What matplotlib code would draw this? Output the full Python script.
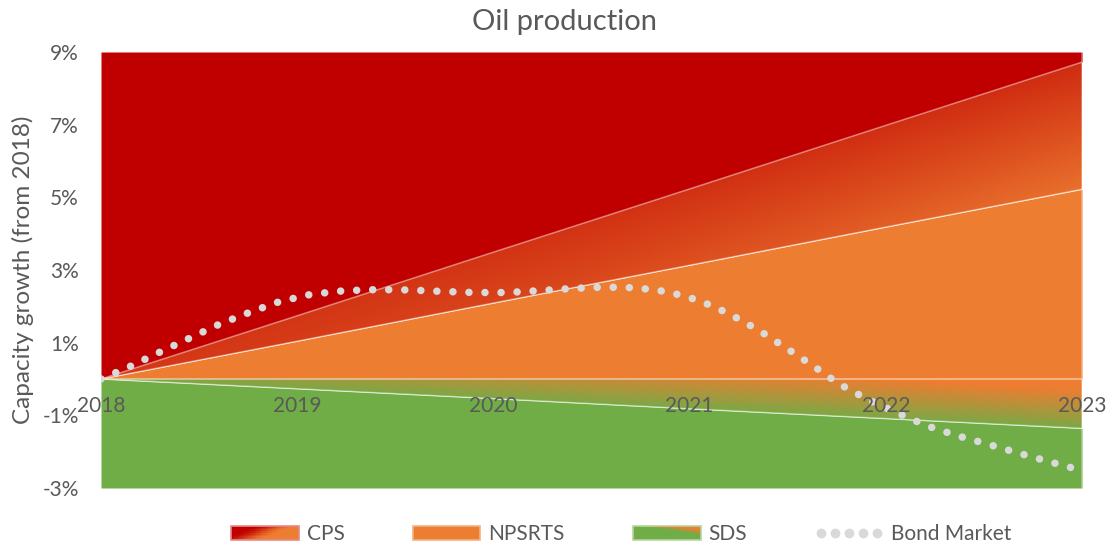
import numpy as np
import matplotlib
matplotlib.use("Agg")
import matplotlib.pyplot as plt
from matplotlib.patches import Polygon, Rectangle, Patch
from matplotlib.lines import Line2D
from matplotlib.colors import to_rgb
from matplotlib.legend_handler import HandlerBase

# scenario lines (capacity growth, % from 2018)
years = [2018, 2019, 2020, 2021, 2022, 2023]
cps = [0.0, 1.74, 3.49, 5.23, 6.98, 8.72]
npsrts = [0.0, 1.04, 2.09, 3.13, 4.18, 5.22]
sds = [0.0, -0.27, -0.54, -0.82, -1.09, -1.36]

# bond market curve
bond_year = [2018.00, 2018.15, 2018.30, 2018.45, 2018.60, 2018.76, 2018.91, 2019.07,
             2019.24, 2019.40, 2019.57, 2019.74, 2019.90, 2020.07, 2020.23, 2020.40,
             2020.56, 2020.73, 2020.89, 2021.05, 2021.20, 2021.35, 2021.49, 2021.63,
             2021.76, 2021.91, 2022.06, 2022.21, 2022.37, 2022.53, 2022.69, 2022.85,
             2023.00]
bond_val = [0.00, 0.35, 0.74, 1.12, 1.50, 1.84, 2.13, 2.33,
            2.43, 2.46, 2.45, 2.41, 2.38, 2.38, 2.43, 2.49,
            2.53, 2.51, 2.40, 2.16, 1.80, 1.35, 0.86, 0.36,
            -0.13, -0.57, -0.94, -1.29, -1.57, -1.81, -2.06, -2.30,
            -2.52]

y_ticks = [-3, -1, 1, 3, 5, 7, 9]
labels = ['CPS', 'NPSRTS', 'SDS', 'Bond Market']

RED = '#C00000'
ORANGE = '#ED7D31'
GREEN = '#70AD47'
TXT = '#595959'
DOT = '#D9D9D9'

plt.rcParams['font.family'] = ['Lato', 'DejaVu Sans']


def blend(c1, c2, t):
    a = np.array(to_rgb(c1))
    b = np.array(to_rgb(c2))
    t = np.clip(np.asarray(t, float), 0, 1)
    return a + (b - a) * t[..., None]


def smooth(t):
    t = np.clip(t, 0, 1)
    return t * t * (3 - 2 * t)


class GradHandler(HandlerBase):
    # legend swatch filled with a small 2d gradient
    def __init__(self, c1, c2, func, edge):
        super().__init__()
        self.c1, self.c2, self.func, self.edge = c1, c2, func, edge

    def create_artists(self, legend, orig_handle, xdescent, ydescent,
                       width, height, fontsize, trans):
        arts = []
        nx, ny = 40, 8
        for i in range(nx):
            for j in range(ny):
                u = (i + 0.5) / nx
                v = (j + 0.5) / ny
                c = blend(self.c1, self.c2, self.func(u, v))
                arts.append(Rectangle((-xdescent + i * width / nx, -ydescent + j * height / ny),
                                      width / nx * 1.05, height / ny * 1.05,
                                      fc=c, ec='none', lw=0, transform=trans))
        arts.append(Rectangle((-xdescent, -ydescent), width, height, fc='none',
                              ec=self.edge, lw=1.2, transform=trans))
        return arts


fig = plt.figure(figsize=(11.12, 5.49), dpi=100)
ax = fig.add_axes([101 / 1112, 61 / 549, 981 / 1112, 436 / 549])
ymin, ymax = -3, 9

x = np.array(years, float)
top = np.array(cps)
mid = np.array(npsrts)
low = np.array(sds)

# solid areas
ax.fill_between(x, top, ymax, color=RED, lw=0, zorder=1)
ax.fill_between(x, 0, mid, color=ORANGE, lw=0, zorder=1)
ax.fill_between(x, ymin, low, color=GREEN, lw=0, zorder=1)

# gradient areas
gx = np.linspace(x[0], x[-1], 600)
gy = np.linspace(ymin, ymax, 800)
GX, GY = np.meshgrid(gx, gy)
xf = (GX - x[0]) / (x[-1] - x[0])

ctop = np.interp(GX, x, top)
cmid = np.interp(GX, x, mid)
s = np.clip((ctop - GY) / np.maximum(ctop - cmid, 1e-6), 0, 1)
rgb_cps = blend(RED, ORANGE, 0.35 + 0.1 * (1 - xf) + 0.55 * xf ** 1.5 * s)

w = 1.15 * (1 - xf) - 0.25 + 0.85 * (-GY)
rgb_sds = blend(ORANGE, GREEN, w)

for rgb, upper, lower in [(rgb_cps, top, mid), (rgb_sds, np.zeros_like(low), low)]:
    verts = np.column_stack([np.r_[x, x[::-1]], np.r_[upper, lower[::-1]]])
    poly = Polygon(verts, closed=True, transform=ax.transData, fc='none', ec='none')
    ax.add_patch(poly)
    im = ax.imshow(rgb, extent=[x[0], x[-1], ymin, ymax], origin='lower',
                   aspect='auto', interpolation='bilinear', zorder=1)
    im.set_clip_path(poly)

# area borders
for v in (top, mid, low):
    ax.plot(x, v, color='white', alpha=0.45, lw=1.1, zorder=3)
ax.axhline(0, color='white', alpha=0.5, lw=1.2, zorder=3)
ax.axvline(x[-1], color='white', alpha=0.35, lw=1.2, zorder=3)

# bond market dotted line
ax.plot(bond_year, bond_val, color=DOT, lw=5.4, dashes=(0.01, 2.13),
        dash_capstyle='round', zorder=4)

ax.set_xlim(x[0], x[-1])
ax.set_ylim(ymin, ymax)
ax.set_xticks(years)
ax.set_yticks(y_ticks)
ax.set_yticklabels([f'{v}%' for v in y_ticks])
for sp in ax.spines.values():
    sp.set_visible(False)
ax.spines['bottom'].set_position(('data', 0))
ax.tick_params(axis='both', length=0, labelsize=15, labelcolor=TXT)
ax.tick_params(axis='y', pad=16)
ax.tick_params(axis='x', pad=12)
ax.xaxis.set_zorder(5)

fig.text(0.508, 0.96, 'Oil production', ha='center', va='center', fontsize=21, color=TXT)
fig.text(0.021, 0.508, 'Capacity growth (from 2018)', rotation=90, ha='center',
         va='center', fontsize=17.5, color=TXT)

# legend
h_cps = Patch(fc=RED)
h_nps = Patch(fc=ORANGE, ec='#F4B183', lw=1.2)
h_sds = Patch(fc=GREEN)
h_bond = Line2D([], [], ls='none', marker='o', ms=6, mfc=DOT, mec=DOT)
hmap = {
    h_cps: GradHandler(RED, ORANGE, lambda u, v: smooth((u + 0.5 * (1 - v) - 0.35) / 0.6), '#E58A8A'),
    h_sds: GradHandler(GREEN, ORANGE, lambda u, v: smooth((u + 1.5 * v - 1.55) / 0.5), '#B5D59C'),
}
fig.legend([h_cps, h_nps, h_sds, h_bond], labels, handler_map=hmap, loc='center',
           bbox_to_anchor=(0.5585, 0.027), ncol=4, frameon=False, fontsize=15,
           labelcolor=TXT, handlelength=3.26, handleheight=0.61, handletextpad=0.38,
           columnspacing=3.26, numpoints=5)

fig.savefig('out.png', dpi=100)
